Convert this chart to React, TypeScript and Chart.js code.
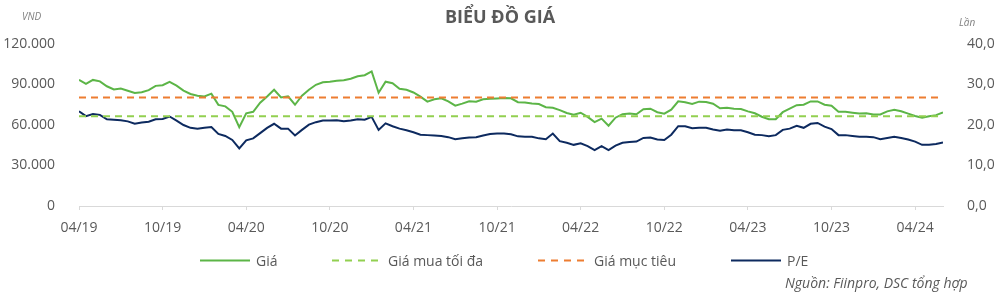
import React, { useEffect, useRef } from "react";
import { Chart, registerables } from "chart.js";

Chart.register(...registerables);

// Semi-monthly samples starting 04/2019 (x measured in months since 04/2019)
const MONTH_STEP = 0.5;

const PRICE = [
  93500, 90400, 93400, 92300, 88700, 86300, 87000, 85400, 83700, 84200,
  85800, 89000, 89500, 91900, 89200, 85500, 83000, 81700, 81200, 83200,
  74900, 73800, 69800, 58400, 68700, 69800, 76500, 81100, 86100, 80400,
  81200, 75000, 81700, 86100, 89800, 91700, 92100, 92700, 93200, 94300,
  96100, 96900, 99700, 83900, 92100, 91000, 86900, 86100, 84100, 81000,
  77300, 79000, 79800, 77500, 74300, 75800, 77600, 77300, 79000, 79500,
  79700, 80000, 79800, 76900, 76700, 75900, 75500, 73200, 72800, 71000,
  68900, 67600, 69100, 66000, 62100, 64700, 59500, 65400, 68000, 68500,
  68000, 71700, 72100, 69500, 68400, 71300, 77500, 76900, 75600, 77300,
  77000, 75800, 72400, 72800, 72100, 71800, 70100, 68700, 66100, 64300,
  64300, 69500, 72100, 74700, 75000, 77500, 77500, 75000, 74300, 69800,
  69800, 69100, 68500, 68700, 67800, 67800, 70100, 71300, 70200, 68400,
  66700, 65400, 66500, 67300, 69300,
];

const PE = [
  23.4, 22.2, 22.7, 22.5, 21.4, 21.3, 21.2, 20.9, 20.3, 20.6,
  20.8, 21.4, 21.5, 22.1, 21.1, 20.0, 19.3, 19.1, 19.3, 19.5,
  17.8, 17.3, 16.3, 14.2, 16.2, 16.7, 18.0, 19.3, 20.3, 19.1,
  19.1, 17.4, 18.8, 20.1, 20.7, 21.1, 21.1, 21.2, 20.9, 21.1,
  21.4, 21.3, 22.0, 18.8, 20.4, 19.7, 19.1, 18.7, 18.2, 17.6,
  17.5, 17.4, 17.3, 17.0, 16.5, 16.7, 16.9, 17.0, 17.4, 17.8,
  17.9, 17.9, 17.7, 17.2, 17.1, 17.1, 16.7, 16.5, 17.9, 16.0,
  15.6, 15.1, 15.5, 14.8, 13.8, 14.8, 13.8, 14.9, 15.6, 15.8,
  15.9, 16.8, 16.9, 16.4, 16.3, 17.6, 19.7, 19.7, 19.2, 19.3,
  19.3, 18.9, 18.6, 18.9, 18.7, 18.7, 18.2, 17.6, 17.5, 17.2,
  17.5, 18.8, 19.1, 19.8, 19.3, 20.3, 20.5, 19.6, 19.0, 17.5,
  17.5, 17.3, 17.1, 17.1, 17.0, 16.5, 16.8, 17.1, 16.8, 16.4,
  15.9, 15.1, 15.1, 15.3, 15.7,
];

const MAX_BUY_PRICE = 66400;
const TARGET_PRICE = 80400;

const X_TICK_MONTHS = [0, 6, 12, 18, 24, 30, 36, 42, 48, 54, 60];
const X_TICK_LABELS = ["04/19", "10/19", "04/20", "10/20", "04/21", "10/21", "04/22", "10/22", "04/23", "10/23", "04/24"];
const LEFT_TICKS = [0, 30000, 60000, 90000, 120000];
const RIGHT_TICKS = [0, 10, 20, 30, 40];

const SERIES_NAMES = ["Giá", "Giá mua tối đa", "Giá mục tiêu", "P/E"];
const COLORS = {
  price: "#5cb547",
  maxBuy: "#92d050",
  target: "#ed7d31",
  pe: "#0d2a5f",
  text: "#595959",
  axis: "#d9d9d9",
};

const FONT = "'Open Sans', 'Noto Sans', sans-serif";

function fmtThousands(v: number) {
  return String(Math.round(v)).replace(/\B(?=(\d{3})+(?!\d))/g, ".");
}

export default function App() {
  const ref = useRef<HTMLCanvasElement | null>(null);

  useEffect(() => {
    if (!ref.current) return;
    const lastX = (PRICE.length - 1) * MONTH_STEP;
    const priceData = PRICE.map((v, i) => ({ x: i * MONTH_STEP, y: v }));
    const peData = PE.map((v, i) => ({ x: i * MONTH_STEP, y: v }));
    const maxBuyData = [
      { x: 0, y: MAX_BUY_PRICE },
      { x: lastX, y: MAX_BUY_PRICE },
    ];
    const targetData = [
      { x: 0, y: TARGET_PRICE },
      { x: lastX, y: TARGET_PRICE },
    ];

    const chart = new Chart(ref.current, {
      type: "line",
      data: {
        datasets: [
          {
            label: SERIES_NAMES[0],
            data: priceData,
            borderColor: COLORS.price,
            borderWidth: 2,
            pointRadius: 0,
            yAxisID: "y",
            order: 3,
          },
          {
            label: SERIES_NAMES[1],
            data: maxBuyData,
            borderColor: COLORS.maxBuy,
            borderWidth: 2,
            borderDash: [7, 5],
            pointRadius: 0,
            yAxisID: "y",
            order: 2,
          },
          {
            label: SERIES_NAMES[2],
            data: targetData,
            borderColor: COLORS.target,
            borderWidth: 2,
            borderDash: [7, 5],
            pointRadius: 0,
            yAxisID: "y",
            order: 1,
          },
          {
            label: SERIES_NAMES[3],
            data: peData,
            borderColor: COLORS.pe,
            borderWidth: 2,
            pointRadius: 0,
            yAxisID: "y1",
            order: 4,
          },
        ],
      },
      options: {
        responsive: false,
        animation: false,
        events: [],
        layout: { padding: { top: 44, bottom: 50, left: 0, right: 0 } },
        plugins: {
          legend: { display: false },
          title: { display: false },
          tooltip: { enabled: false },
        },
        scales: {
          x: {
            type: "linear",
            min: 0,
            max: lastX,
            afterBuildTicks: (scale: any) => {
              scale.ticks = X_TICK_MONTHS.map((v) => ({ value: v }));
            },
            afterFit: (scale: any) => {
              scale.height = 40;
            },
            grid: {
              display: true,
              drawOnChartArea: false,
              drawTicks: true,
              tickLength: 4,
              color: COLORS.axis,
            },
            border: { display: true, color: COLORS.axis, width: 1 },
            ticks: {
              autoSkip: false,
              maxRotation: 0,
              padding: 10,
              color: COLORS.text,
              font: { family: FONT, size: 14 },
              callback: (v: any) => {
                const idx = X_TICK_MONTHS.indexOf(Number(v));
                return idx >= 0 ? X_TICK_LABELS[idx] : "";
              },
            },
          },
          y: {
            position: "left",
            min: LEFT_TICKS[0],
            max: LEFT_TICKS[LEFT_TICKS.length - 1],
            afterBuildTicks: (scale: any) => {
              scale.ticks = LEFT_TICKS.map((v) => ({ value: v }));
            },
            afterFit: (scale: any) => {
              scale.width = 79;
            },
            grid: { display: false },
            border: { display: false },
            ticks: {
              padding: 16,
              color: COLORS.text,
              font: { family: FONT, size: 14 },
              callback: (v: any) => fmtThousands(Number(v)),
            },
          },
          y1: {
            position: "right",
            min: RIGHT_TICKS[0],
            max: RIGHT_TICKS[RIGHT_TICKS.length - 1],
            afterBuildTicks: (scale: any) => {
              scale.ticks = RIGHT_TICKS.map((v) => ({ value: v }));
            },
            afterFit: (scale: any) => {
              scale.width = 57;
            },
            grid: { display: false },
            border: { display: false },
            ticks: {
              padding: 16,
              color: COLORS.text,
              font: { family: FONT, size: 14 },
              callback: (v: any) => Number(v).toFixed(1).replace(".", ","),
            },
          },
        },
      },
    } as any);
    return () => chart.destroy();
  }, []);

  const legendItem = (left: number, color: string, dashed: boolean, label: string) => (
    <div
      key={label}
      style={{ position: "absolute", left, top: 250, height: 20, display: "flex", alignItems: "center" }}
    >
      <svg width={50} height={20} style={{ display: "block" }}>
        <line
          x1={0}
          y1={10.5}
          x2={50}
          y2={10.5}
          stroke={color}
          strokeWidth={2}
          strokeDasharray={dashed ? "7 6" : undefined}
        />
      </svg>
      <span style={{ marginLeft: 6, fontSize: 14, color: COLORS.text, fontFamily: FONT, whiteSpace: "nowrap" }}>
        {label}
      </span>
    </div>
  );

  return (
    <div
      style={{
        position: "fixed",
        left: 0,
        top: 0,
        width: 1000,
        height: 296,
        background: "#ffffff",
        overflow: "hidden",
        fontFamily: FONT,
      }}
    >
      <canvas ref={ref} width={1000} height={296} style={{ position: "absolute", left: 0, top: 0, width: 1000, height: 296 }} />
      <div
        style={{
          position: "absolute",
          left: 0,
          width: 1000,
          top: 4,
          textAlign: "center",
          fontSize: 18,
          fontWeight: 700,
          color: COLORS.text,
        }}
      >
        BIỂU ĐỒ GIÁ
      </div>
      <div style={{ position: "absolute", left: 22, top: 9, fontSize: 10, fontStyle: "italic", color: "#7f7f7f" }}>VND</div>
      <div style={{ position: "absolute", left: 959, top: 15, fontSize: 10, fontStyle: "italic", color: "#7f7f7f" }}>Lần</div>
      {legendItem(200, COLORS.price, false, SERIES_NAMES[0])}
      {legendItem(332, COLORS.maxBuy, true, SERIES_NAMES[1])}
      {legendItem(538, COLORS.target, true, SERIES_NAMES[2])}
      {legendItem(731, COLORS.pe, false, SERIES_NAMES[3])}
      <div
        style={{
          position: "absolute",
          left: 785,
          top: 273,
          fontSize: 14,
          fontStyle: "italic",
          color: COLORS.text,
          whiteSpace: "nowrap",
        }}
      >
        Nguồn: Fiinpro, DSC tổng hợp
      </div>
    </div>
  );
}
